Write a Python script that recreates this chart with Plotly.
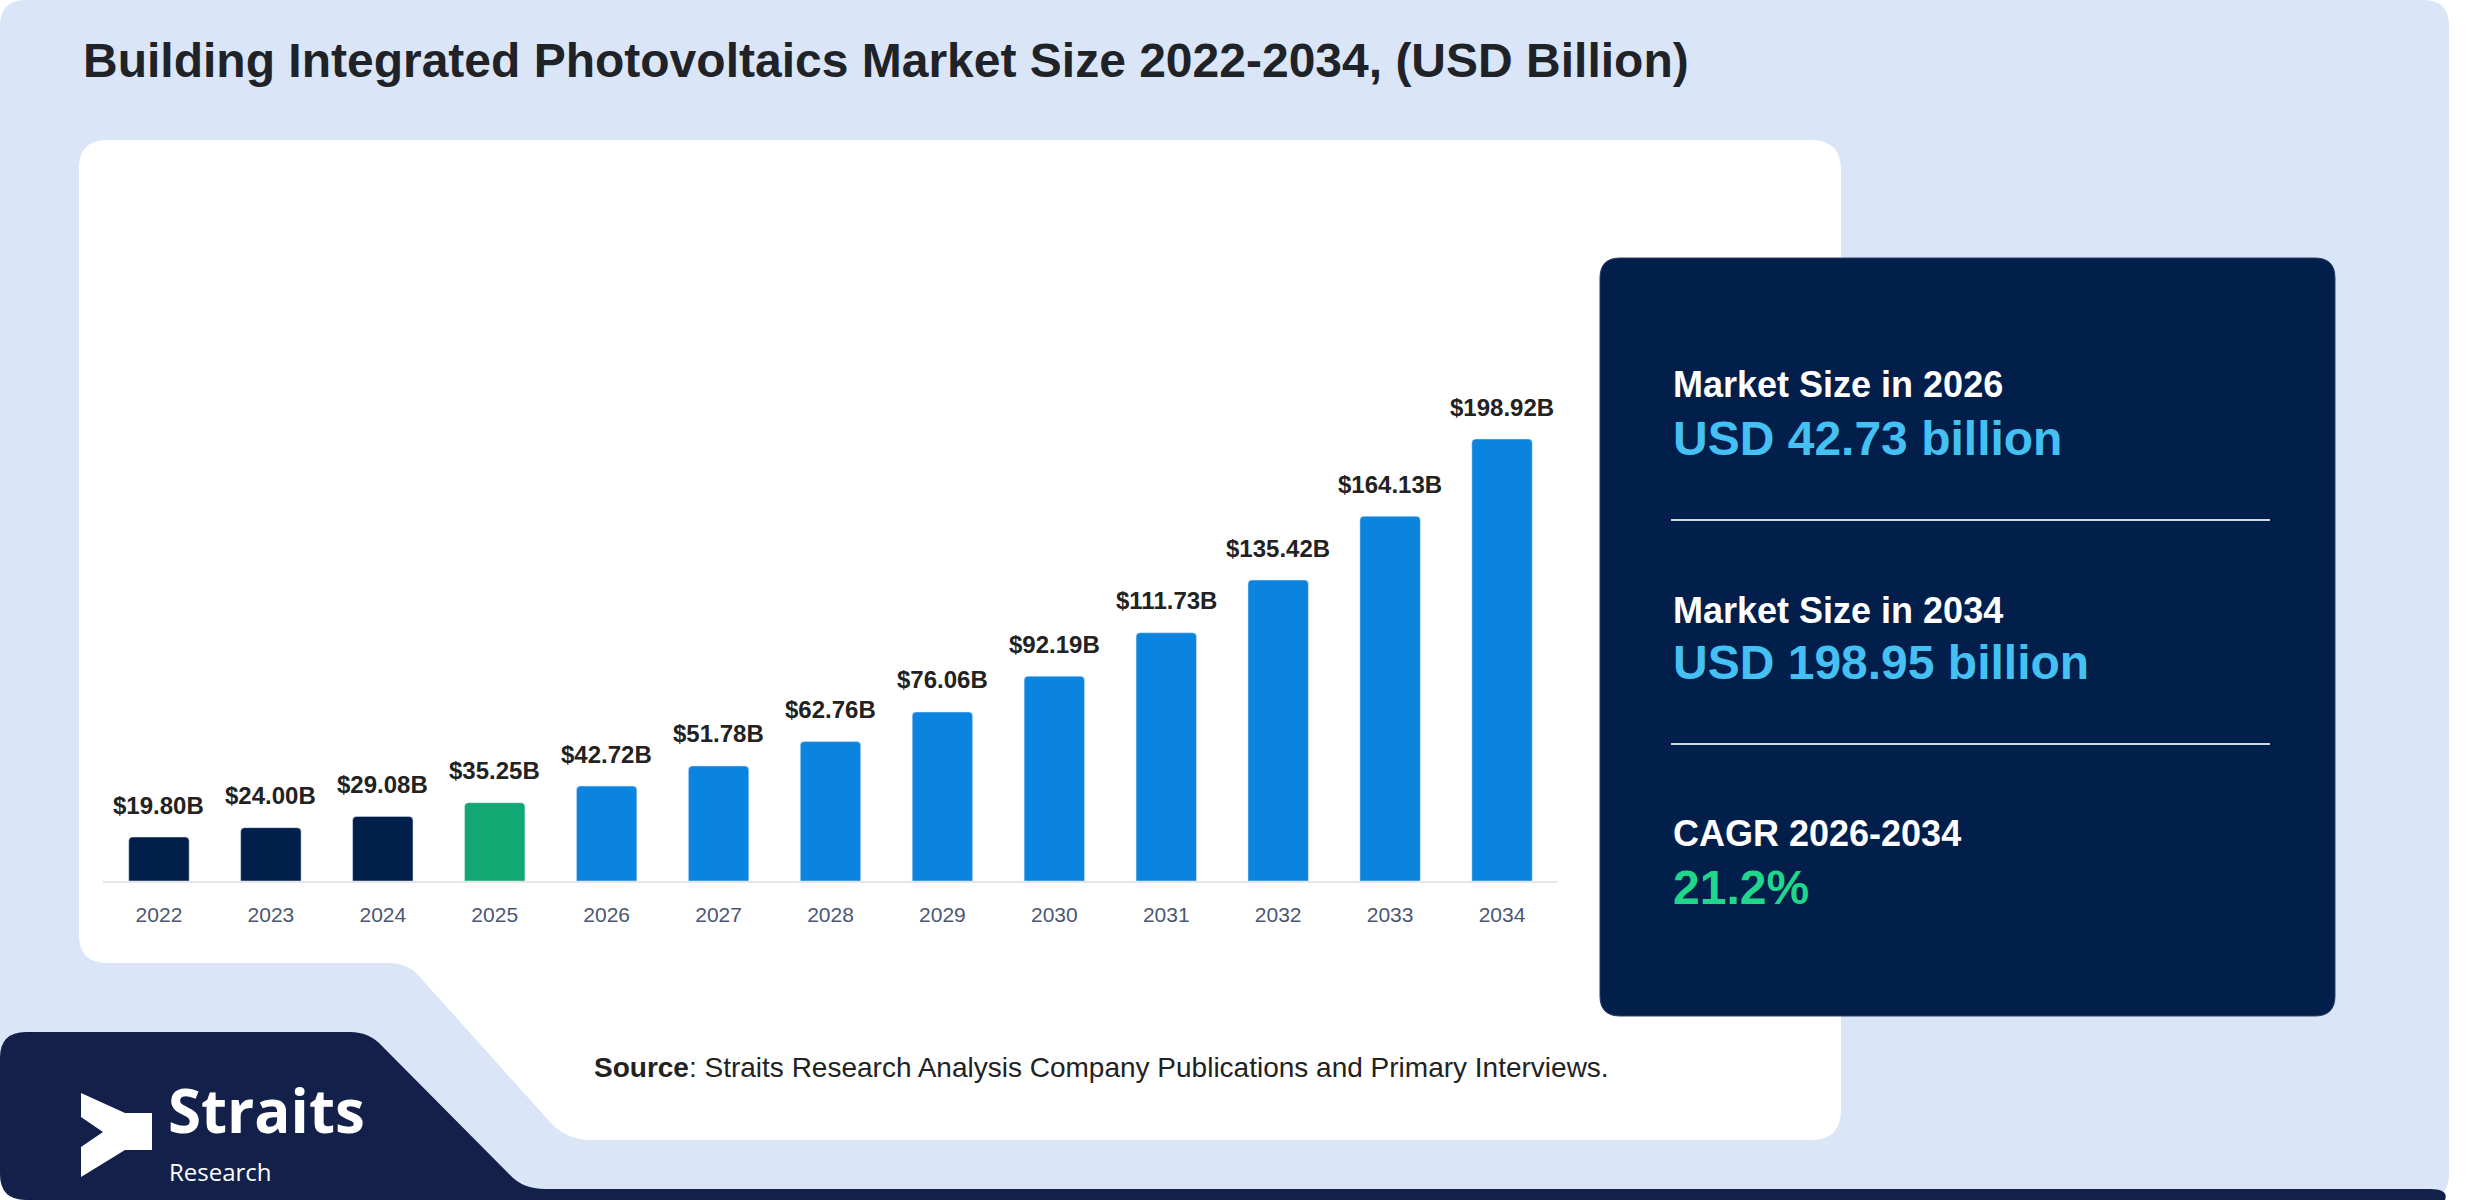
import plotly.graph_objects as go

W, H = 2480, 1200

# chart data
years = ["2022", "2023", "2024", "2025", "2026", "2027", "2028",
         "2029", "2030", "2031", "2032", "2033", "2034"]
market_size = [19.80, 24.00, 29.08, 35.25, 42.72, 51.78, 62.76,
               76.06, 92.19, 111.73, 135.42, 164.13, 198.92]
bar_labels = [f"${v:.2f}B" for v in market_size]

# side panel numbers
stat_heads = ["Market Size in 2026", "Market Size in 2034", "CAGR 2026-2034"]
stat_values = ["USD 42.73 billion", "USD 198.95 billion", "21.2%"]

title_text = "Building Integrated Photovoltaics Market Size 2022-2034, (USD Billion)"
source_text = "<b>Source</b>: Straits Research Analysis Company Publications and Primary Interviews."

NAVY = "#001f4b"
GREEN = "#12a874"
BLUE = "#0b84e0"


def bar_color(year):
    y = int(year)
    if y < 2025:
        return NAVY
    if y == 2025:
        return GREEN
    return BLUE


def px(x):
    return x / W


def py(y):
    return 1 - y / H


def pt(x, y):
    return f"{px(x):.5f},{py(y):.5f}"


def rounded_rect(x0, y0, x1, y1, r):
    return (
        f"M {pt(x0 + r, y0)} L {pt(x1 - r, y0)} Q {pt(x1, y0)} {pt(x1, y0 + r)} "
        f"L {pt(x1, y1 - r)} Q {pt(x1, y1)} {pt(x1 - r, y1)} "
        f"L {pt(x0 + r, y1)} Q {pt(x0, y1)} {pt(x0, y1 - r)} "
        f"L {pt(x0, y0 + r)} Q {pt(x0, y0)} {pt(x0 + r, y0)} Z"
    )


fig = go.Figure()

fig.add_trace(
    go.Bar(
        x=years,
        y=market_size,
        marker=dict(color=[bar_color(y) for y in years], cornerradius=4),
        width=0.54,
        hoverinfo="x+y",
    )
)

shapes = []
# outer light card
shapes.append(dict(type="path", path=rounded_rect(0, 0, 2449, 1200, 26),
                   xref="paper", yref="paper", fillcolor="#dae6f8",
                   line=dict(width=0), layer="below"))
# white chart panel with notch at bottom left
white_path = (
    f"M {pt(107, 140)} L {pt(1811, 140)} Q {pt(1841, 140)} {pt(1841, 170)} "
    f"L {pt(1841, 1110)} Q {pt(1841, 1140)} {pt(1811, 1140)} "
    f"L {pt(592, 1140)} Q {pt(566, 1140)} {pt(550, 1122)} "
    f"L {pt(418, 975)} Q {pt(407, 963)} {pt(388, 963)} "
    f"L {pt(107, 963)} Q {pt(79, 963)} {pt(79, 935)} "
    f"L {pt(79, 168)} Q {pt(79, 140)} {pt(107, 140)} Z"
)
shapes.append(dict(type="path", path=white_path, xref="paper", yref="paper",
                   fillcolor="white", line=dict(width=0), layer="below"))
# navy logo band along the bottom
navy_path = (
    f"M {pt(0, 1058)} Q {pt(0, 1032)} {pt(26, 1032)} L {pt(350, 1032)} "
    f"Q {pt(370, 1032)} {pt(383, 1047)} L {pt(510, 1175)} "
    f"Q {pt(523, 1189)} {pt(545, 1189)} L {pt(2430, 1189)} "
    f"Q {pt(2449, 1189)} {pt(2445, 1200)} L {pt(26, 1200)} "
    f"Q {pt(0, 1200)} {pt(0, 1174)} Z"
)
shapes.append(dict(type="path", path=navy_path, xref="paper", yref="paper",
                   fillcolor="#13214a", line=dict(width=0), layer="below"))
# logo mark
logo_path = (
    f"M {pt(81, 1093)} L {pt(125, 1113)} L {pt(152, 1113)} L {pt(152, 1150)} "
    f"L {pt(125, 1150)} L {pt(81, 1177)} L {pt(81, 1147)} L {pt(103, 1132)} "
    f"L {pt(81, 1117)} Z"
)
shapes.append(dict(type="path", path=logo_path, xref="paper", yref="paper",
                   fillcolor="white", line=dict(width=0), layer="below"))
# stats panel
shapes.append(dict(type="path", path=rounded_rect(1600, 258, 2335, 1016, 20),
                   xref="paper", yref="paper", fillcolor="#021e4a",
                   line=dict(color="#2a3f66", width=1), layer="below"))
for ly in [520, 744]:
    shapes.append(dict(type="line", xref="paper", yref="paper",
                       x0=px(1671), x1=px(2270), y0=py(ly), y1=py(ly),
                       line=dict(color="#cfd6e2", width=2), layer="below"))

annotations = []
annotations.append(dict(text=f"<b>{title_text}</b>", x=px(81), y=py(61),
                        xref="paper", yref="paper", xanchor="left", yanchor="middle",
                        showarrow=False,
                        font=dict(family="Liberation Sans", size=48, color="#1f2328")))
# value labels above bars (category axis -> index positions)
for i, (v, lab) in enumerate(zip(market_size, bar_labels)):
    annotations.append(dict(text=f"<b>{lab}</b>", x=i, y=v, xref="x", yref="y",
                            yshift=32, showarrow=False, yanchor="middle",
                            font=dict(family="Liberation Sans", size=24, color="#222222")))
annotations.append(dict(text=source_text, x=px(1101), y=py(1067),
                        xref="paper", yref="paper", xanchor="center", yanchor="middle",
                        showarrow=False,
                        font=dict(family="Liberation Sans", size=28, color="#222222")))

head_y = [385, 610, 834]
value_y = [438, 662, 887]
value_colors = ["#45c0f2", "#45c0f2", "#1fd68b"]
for head, val, hy, vy, vc in zip(stat_heads, stat_values, head_y, value_y, value_colors):
    annotations.append(dict(text=f"<b>{head}</b>", x=px(1671), y=py(hy),
                            xref="paper", yref="paper", xanchor="left", yanchor="middle",
                            showarrow=False,
                            font=dict(family="Liberation Sans", size=36, color="white")))
    annotations.append(dict(text=f"<b>{val}</b>", x=px(1671), y=py(vy),
                            xref="paper", yref="paper", xanchor="left", yanchor="middle",
                            showarrow=False,
                            font=dict(family="Liberation Sans", size=48, color=vc)))

# logo words
annotations.append(dict(text="<b>Straits</b>", x=px(166), y=py(1153),
                        xref="paper", yref="paper", xanchor="left", yanchor="bottom",
                        showarrow=False,
                        font=dict(family="Open Sans", size=60, color="white")))
annotations.append(dict(text="Research", x=px(167), y=py(1153),
                        xref="paper", yref="paper", xanchor="left", yanchor="top",
                        showarrow=False,
                        font=dict(family="Open Sans", size=24, color="white")))

fig.update_layout(
    width=W,
    height=H,
    margin=dict(l=0, r=0, t=0, b=0),
    paper_bgcolor="white",
    plot_bgcolor="rgba(0,0,0,0)",
    showlegend=False,
    shapes=shapes,
    annotations=annotations,
    xaxis=dict(
        domain=[px(103), px(1558)],
        type="category",
        range=[-0.5, 12.5],
        showline=True,
        linecolor="#e3e6ea",
        linewidth=2,
        showgrid=False,
        zeroline=False,
        ticks="",
        ticklabelstandoff=14,
        tickfont=dict(family="Liberation Sans", size=21, color="#4a5773"),
        fixedrange=True,
    ),
    yaxis=dict(
        domain=[py(881), py(160)],
        range=[0, (881 - 160) / 2.222],
        visible=False,
        fixedrange=True,
    ),
)

fig.write_html("out.html", config={"displayModeBar": False},
               post_script="document.body.style.margin='0';")
